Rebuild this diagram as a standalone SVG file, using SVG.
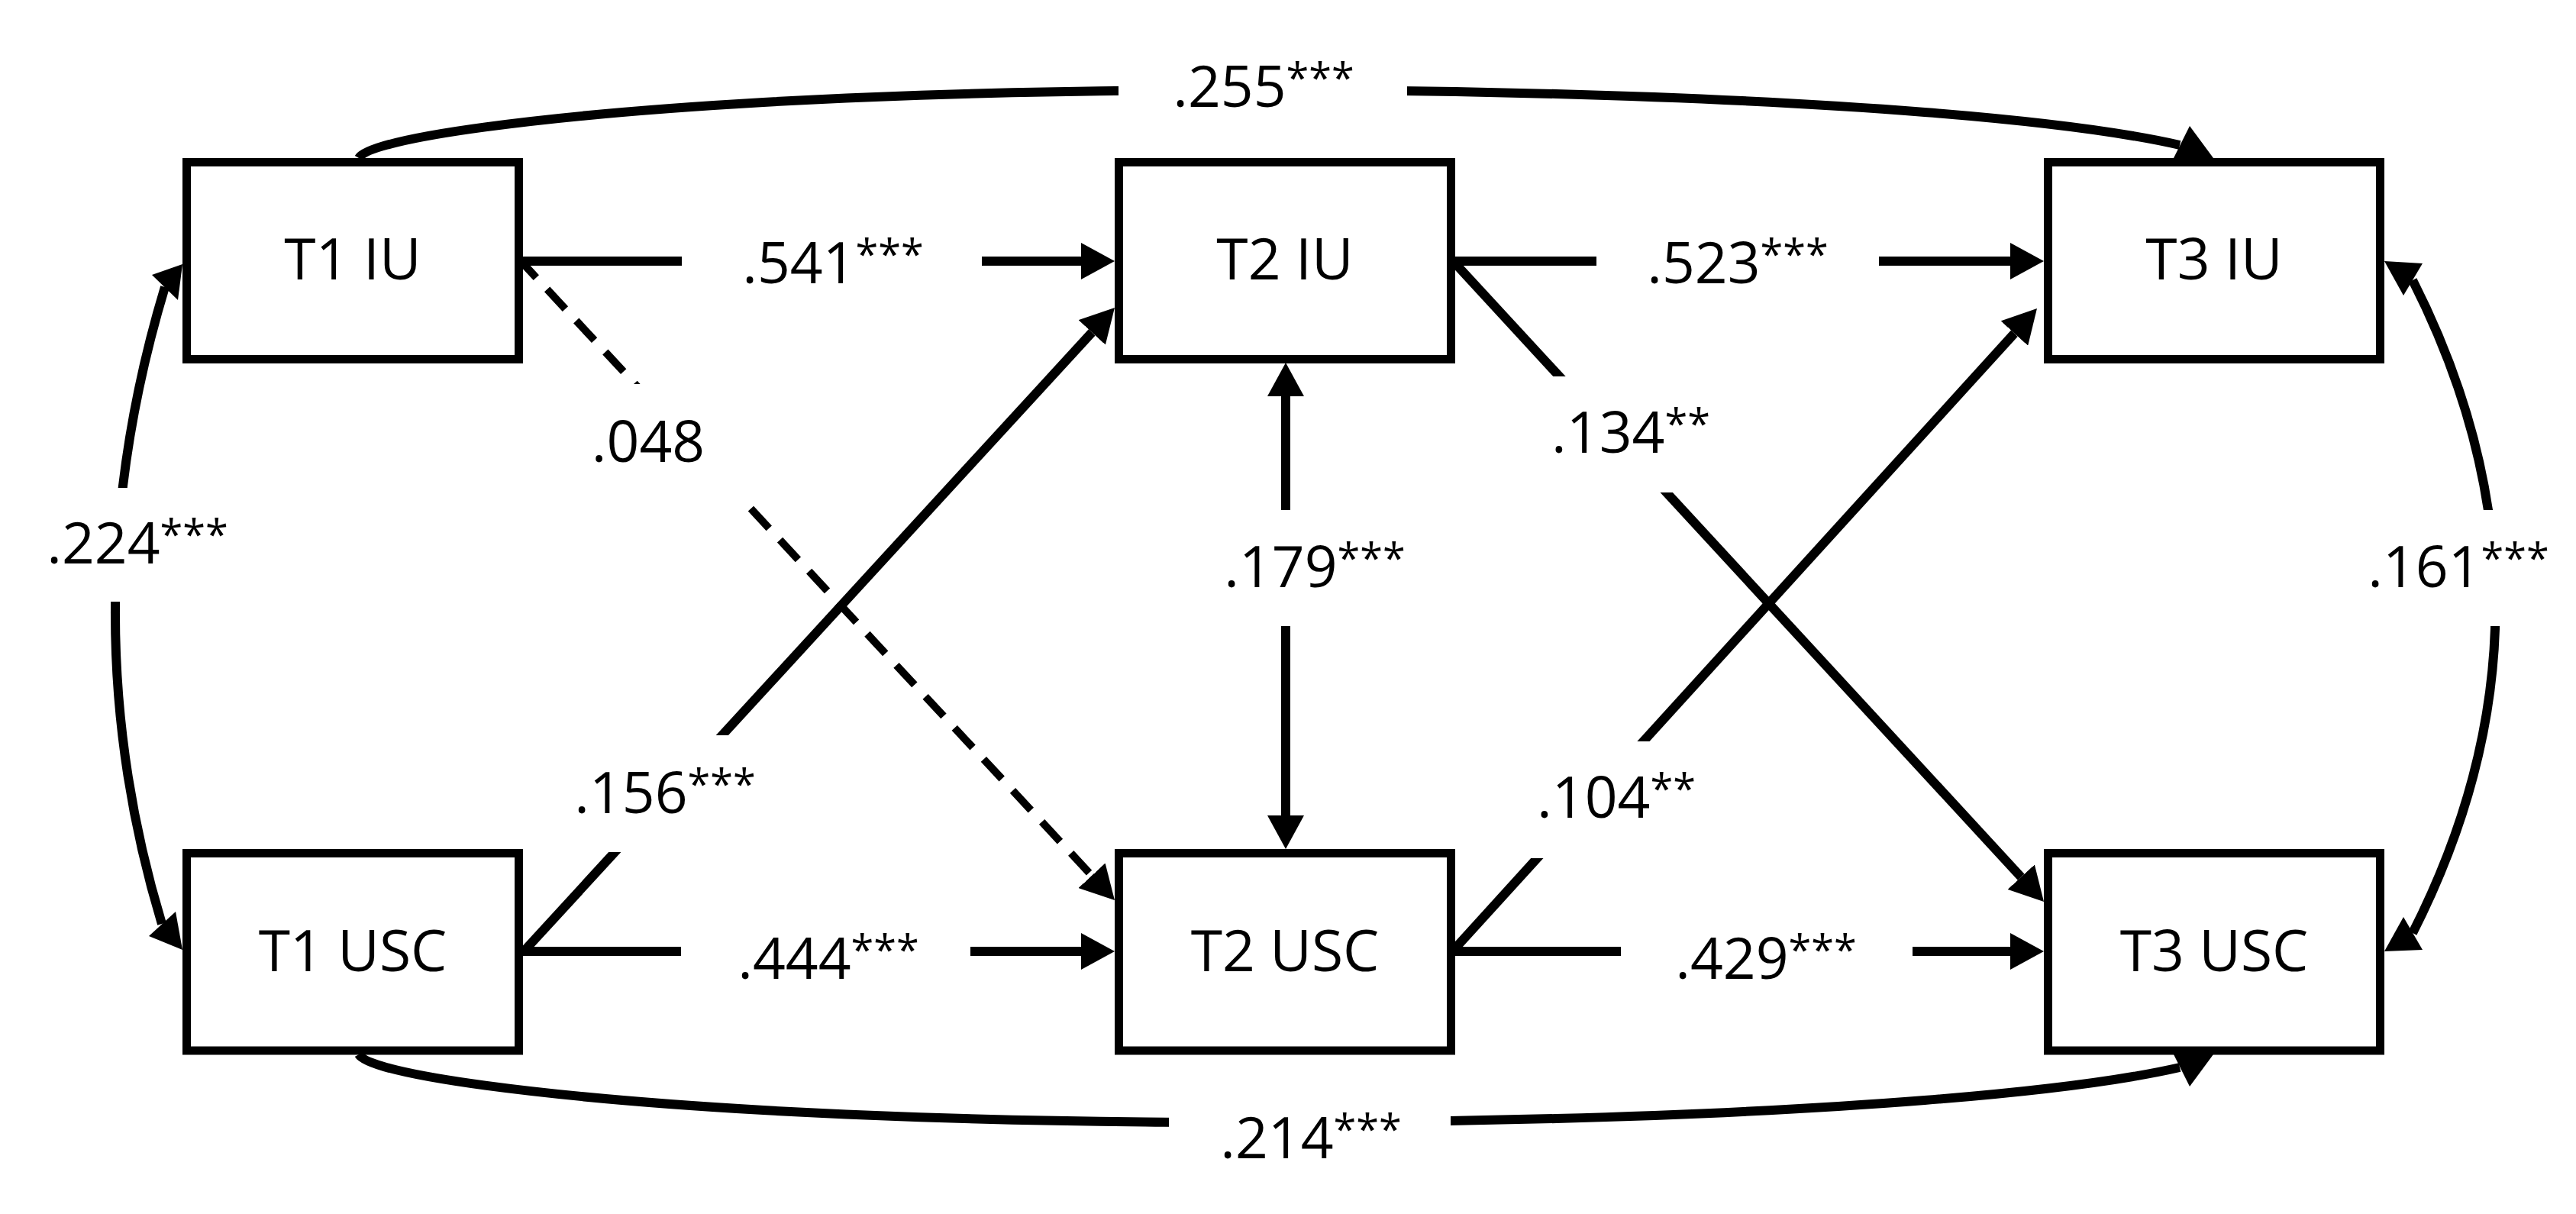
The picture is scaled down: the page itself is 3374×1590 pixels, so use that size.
<svg xmlns="http://www.w3.org/2000/svg" width="3374" height="1590" viewBox="0 0 3374 1590">
  <style>
    .node rect { fill: #fff; stroke: #000; stroke-width: 11; }
    .node text, .lbl text { font-family: "Open Sans", "Liberation Sans", sans-serif; font-size: 75px; fill: #000; text-anchor: middle; }
    .ln { fill: none; stroke: #000; stroke-width: 12; }
    .dash { fill: none; stroke: #000; stroke-width: 10; stroke-dasharray: 35 21; stroke-dashoffset: 11; }
    .head { fill: #000; stroke: none; }
    .lbl rect { fill: #fff; stroke: none; }
    .sup { font-size: 54px; }
  </style>
  <defs>
    <marker id="arr" markerUnits="userSpaceOnUse" markerWidth="44" markerHeight="48" viewBox="0 0 44 48" refX="0" refY="24" orient="auto-start-reverse">
      <path d="M0,0 L44,24 L0,48 z" fill="#000"/>
    </marker>
  </defs>
  <rect x="0" y="0" width="3374" height="1590" fill="#fff"/>

  <g id="connectors">
    <path class="ln" d="M470,207 C485,180 720,150 1000,134 C1600,100 2550,120 2855,190"/>
    <polygon class="head" points="2868,165 2847,207 2899,207"/>
    <path class="ln" d="M470,1381 C485,1408 720,1438 1000,1454 C1600,1488 2550,1468 2855,1398"/>
    <polygon class="head" points="2868,1423 2847,1381 2899,1381"/>
    <path class="ln" d="M216,376 Q88,800 212,1210"/>
    <polygon class="head" points="239,346 199,360 233,393"/>
    <polygon class="head" points="239,1244 195,1226 230,1194"/>
    <path class="ln" d="M3160,367 Q3377,795 3160,1222"/>
    <polygon class="head" points="3123,342 3173,345 3148,387"/>
    <polygon class="head" points="3123,1246 3148,1201 3173,1244"/>

    <line class="ln" x1="685" y1="342" x2="1416" y2="342" marker-end="url(#arr)"/>
    <line class="ln" x1="1906" y1="342" x2="2633" y2="342" marker-end="url(#arr)"/>
    <line class="ln" x1="685" y1="1246" x2="1416" y2="1246" marker-end="url(#arr)"/>
    <line class="ln" x1="1906" y1="1246" x2="2633" y2="1246" marker-end="url(#arr)"/>
    <line class="ln" x1="1684" y1="519" x2="1684" y2="1068" marker-start="url(#arr)" marker-end="url(#arr)"/>
    <line class="ln" x1="686" y1="1246" x2="1430.2" y2="435.4" marker-end="url(#arr)"/>
    <line class="dash" x1="686" y1="346" x2="1430" y2="1146.8" marker-end="url(#arr)"/>
    <line class="ln" x1="1906" y1="345" x2="2647.2" y2="1148.7" marker-end="url(#arr)"/>
    <line class="ln" x1="1906" y1="1242" x2="2638.4" y2="436.6" marker-end="url(#arr)"/>
  </g>

  <g id="labels" class="lbl">
    <rect x="1465" y="40" width="378" height="150"/>
    <text x="1655" y="140">.255<tspan class="sup" dy="-18">***</tspan></text>
    <rect x="893" y="270" width="393" height="150"/>
    <text x="1091" y="371">.541<tspan class="sup" dy="-18">***</tspan></text>
    <rect x="2091" y="270" width="370" height="150"/>
    <text x="2276" y="371">.523<tspan class="sup" dy="-18">***</tspan></text>
    <rect x="892" y="1181" width="379" height="152"/>
    <text x="1085" y="1282">.444<tspan class="sup" dy="-18">***</tspan></text>
    <rect x="2123" y="1181" width="382" height="152"/>
    <text x="2313" y="1282">.429<tspan class="sup" dy="-18">***</tspan></text>
    <rect x="1531" y="1416" width="369" height="152"/>
    <text x="1717" y="1517">.214<tspan class="sup" dy="-18">***</tspan></text>
    <rect x="30" y="639" width="300" height="149"/>
    <text x="180" y="738">.224<tspan class="sup" dy="-18">***</tspan></text>
    <rect x="3090" y="668" width="270" height="152"/>
    <text x="3220" y="769">.161<tspan class="sup" dy="-18">***</tspan></text>
    <rect x="1560" y="668" width="325" height="152"/>
    <text x="1722" y="769">.179<tspan class="sup" dy="-18">***</tspan></text>
    <rect x="730" y="963" width="280" height="153"/>
    <text x="871" y="1065">.156<tspan class="sup" dy="-18">***</tspan></text>
    <rect x="720" y="503" width="275" height="152"/>
    <text x="849" y="605">.048</text>
    <rect x="2010" y="493" width="250" height="152"/>
    <text x="2136" y="593">.134<tspan class="sup" dy="-18">**</tspan></text>
    <rect x="1990" y="971" width="260" height="153"/>
    <text x="2117" y="1071">.104<tspan class="sup" dy="-18">**</tspan></text>
  </g>

  <g id="node-t1iu" class="node">
    <rect x="244.5" y="212.5" width="435" height="258"/>
    <text x="462" y="366">T1 IU</text>
  </g>
  <g id="node-t2iu" class="node">
    <rect x="1465.5" y="212.5" width="435" height="258"/>
    <text x="1683" y="366">T2 IU</text>
  </g>
  <g id="node-t3iu" class="node">
    <rect x="2682.5" y="212.5" width="435" height="258"/>
    <text x="2900" y="366">T3 IU</text>
  </g>
  <g id="node-t1usc" class="node">
    <rect x="244.5" y="1117.5" width="435" height="258.5"/>
    <text x="462" y="1272">T1 USC</text>
  </g>
  <g id="node-t2usc" class="node">
    <rect x="1465.5" y="1117.5" width="435" height="258.5"/>
    <text x="1683" y="1272">T2 USC</text>
  </g>
  <g id="node-t3usc" class="node">
    <rect x="2682.5" y="1117.5" width="435" height="258.5"/>
    <text x="2900" y="1272">T3 USC</text>
  </g>
</svg>
